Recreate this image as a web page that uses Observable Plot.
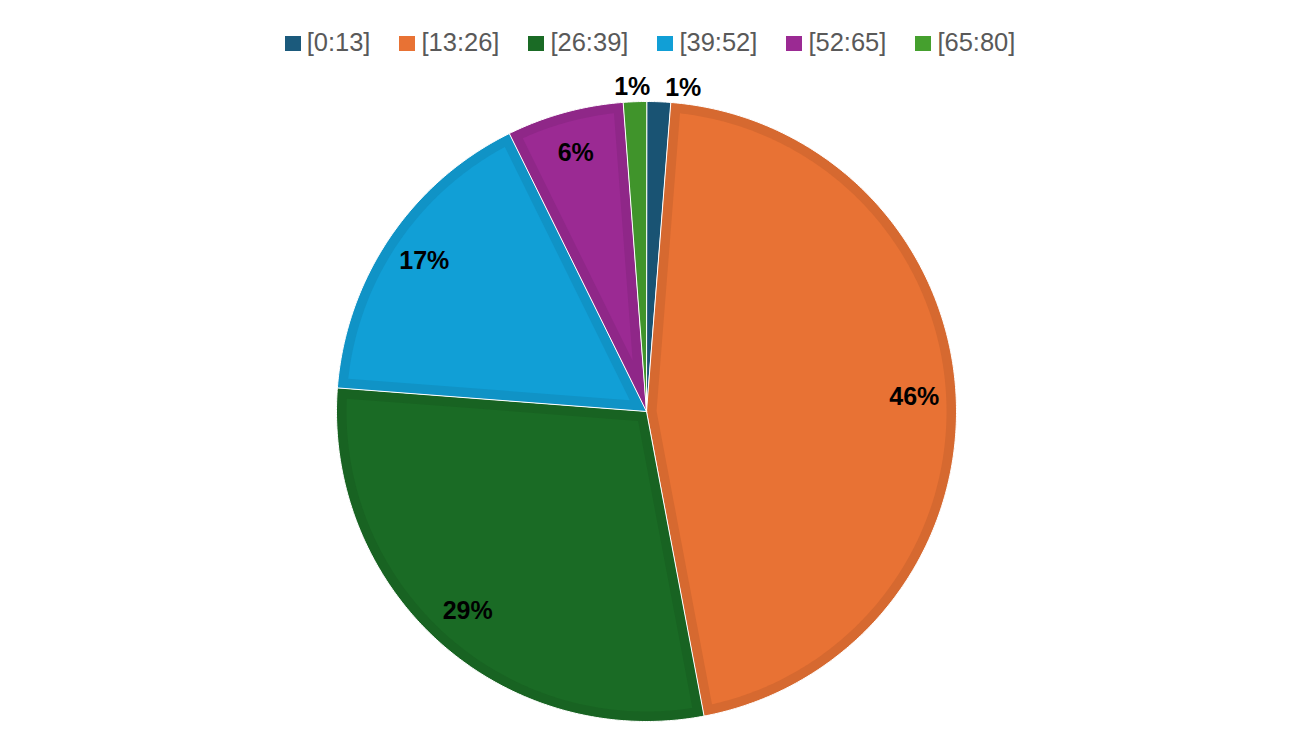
<!DOCTYPE html>
<html>
<head>
<meta charset="utf-8">
<script src="https://cdn.jsdelivr.net/npm/d3@7"></script>
<script src="https://cdn.jsdelivr.net/npm/@observablehq/plot@0.6"></script>
<style>
  html, body { margin: 0; padding: 0; background: #fff; }
  #legend { height: 64px; padding-top: 20px; display: flex; justify-content: center; align-items: center; gap: 29px;
    font-family: "Liberation Sans", Arial, sans-serif; font-size: 25.5px; color: #595959; box-sizing: border-box; padding-left: 10px; }
  .item { display: flex; align-items: center; gap: 6px; }
  .sw { width: 16px; height: 15px; display: inline-block; margin-top: 2px; }
  #chart svg { overflow: visible; display: block; }
</style>
</head>
<body>
<div id="legend"></div>
<div id="chart"></div>
<script>
const categories = ["[0:13]", "[13:26]", "[26:39]", "[39:52]", "[52:65]", "[65:80]"];
const shares = [1.25, 45.8, 29.2, 16.5, 6.1, 1.2];
const labels = ["1%", "46%", "29%", "17%", "6%", "1%"];
const colors = ["#1b5a7c", "#e87234", "#1a6b25", "#119fd6", "#9b2a93", "#45a02e"];

const W = 1290, H = 686;
const cx = 646, cy = 347, R = 310, inset = 10;

const legend = document.getElementById("legend");
categories.forEach((c, i) => {
  const it = document.createElement("div");
  it.className = "item";
  it.innerHTML = `<span class="sw" style="background:${colors[i]}"></span><span>${c}</span>`;
  legend.appendChild(it);
});

const total = d3.sum(shares);
let acc = 0;
const slices = categories.map((c, i) => {
  const a0 = acc / total * 2 * Math.PI;
  acc += shares[i];
  const a1 = acc / total * 2 * Math.PI;
  return {cat: c, share: shares[i], label: labels[i], a0, a1, color: colors[i]};
});

const pt = (a, rho) => [cx + rho * Math.sin(a), cy - rho * Math.cos(a)];

function outerPoly(s) {
  const pts = [[cx, cy]];
  const n = Math.max(2, Math.ceil((s.a1 - s.a0) / (Math.PI / 360)));
  for (let j = 0; j <= n; j++) pts.push(pt(s.a0 + (s.a1 - s.a0) * j / n, R));
  return pts.map(([x, y]) => ({cat: s.cat, x, y}));
}
function innerPoly(s) {
  const h = (s.a1 - s.a0) / 2;
  const mid = s.a0 + h;
  const apex = pt(mid, inset / Math.sin(h));
  const r2 = R - inset;
  const da = Math.asin(inset / r2);
  const b0 = s.a0 + da, b1 = s.a1 - da;
  const pts = [apex];
  const n = Math.max(2, Math.ceil((b1 - b0) / (Math.PI / 360)));
  for (let j = 0; j <= n; j++) pts.push(pt(b0 + (b1 - b0) * j / n, r2));
  return pts.map(([x, y]) => ({cat: s.cat, x, y}));
}

const marks = [];
slices.forEach(s => {
  const dark = d3.color(s.color).darker(0.22).formatHex();
  marks.push(Plot.line(outerPoly(s), {x: "x", y: "y", fill: dark, stroke: "white", strokeWidth: 1, curve: "linear-closed"}));
  if (s.share >= 3) {
    marks.push(Plot.line(innerPoly(s), {x: "x", y: "y", fill: "cat", stroke: "none", curve: "linear-closed"}));
  }
});

const inside = slices.filter(s => s.share >= 3).map(s => {
  const [x, y] = pt((s.a0 + s.a1) / 2, R * 0.865);
  return {x, y, label: s.label};
});
const outsideR = slices.filter(s => s.share < 3 && (s.a0 + s.a1) / 2 < Math.PI).map(s => {
  const [x, y] = pt((s.a0 + s.a1) / 2, R + 14);
  return {x, y, label: s.label};
});
const outsideL = slices.filter(s => s.share < 3 && (s.a0 + s.a1) / 2 >= Math.PI).map(s => {
  const [x, y] = pt((s.a0 + s.a1) / 2, R + 15);
  return {x, y, label: s.label};
});
const txt = {fontFamily: "'Liberation Sans', Arial, sans-serif", fontWeight: "bold", fontSize: 25, fill: "black"};
marks.push(Plot.text(inside, {x: "x", y: "y", text: "label", ...txt}));
marks.push(Plot.text(outsideR, {x: "x", y: "y", text: "label", textAnchor: "start", dx: 6, ...txt}));
marks.push(Plot.text(outsideL, {x: "x", y: "y", text: "label", dx: -2, ...txt}));

const chart = Plot.plot({
  width: W, height: H,
  margin: 0,
  x: {domain: [0, W], range: [0, W], axis: null},
  y: {domain: [0, H], range: [0, H], axis: null},
  color: {domain: categories, range: colors},
  marks
});
document.getElementById("chart").appendChild(chart);
</script>
</body>
</html>
